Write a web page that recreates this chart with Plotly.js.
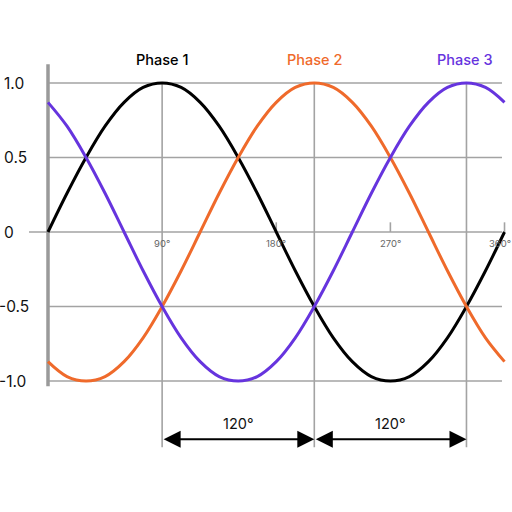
<!DOCTYPE html>
<html><head><meta charset="utf-8">
<script src="https://cdn.plot.ly/plotly-3.0.1.min.js"></script>
<style>html,body{margin:0;padding:0;background:#fff}#chart{width:512px;height:512px}</style>
</head><body><div id="chart"></div>
<script>
// Angles in degrees (read every 15°)
const angles = [0,15,30,45,60,75,90,105,120,135,150,165,180,195,210,225,240,255,270,285,300,315,330,345,360];
const phase1 = [0,0.26,0.5,0.71,0.87,0.97,1,0.97,0.87,0.71,0.5,0.26,0,-0.26,-0.5,-0.71,-0.87,-0.97,-1,-0.97,-0.87,-0.71,-0.5,-0.26,0];
const phase2 = [-0.87,-0.97,-1,-0.97,-0.87,-0.71,-0.5,-0.26,0,0.26,0.5,0.71,0.87,0.97,1,0.97,0.87,0.71,0.5,0.26,0,-0.26,-0.5,-0.71,-0.87];
const phase3 = [0.87,0.71,0.5,0.26,0,-0.26,-0.5,-0.71,-0.87,-0.97,-1,-0.97,-0.87,-0.71,-0.5,-0.26,0,0.26,0.5,0.71,0.87,0.97,1,0.97,0.87];
const seriesNames = ["Phase 1","Phase 2","Phase 3"];
const seriesPeaks = [90,210,330];
const yTickVals = [1,0.5,0,-0.5,-1];
const yTickText = ["1.0","0.5","0","-0.5","-1.0"];
const xTickVals = [90,180,270,360];
const xTickText = ["90°","180°","270°","360°"];
const markedAngles = [90,210,330];
const spanLabel = "120°";

const colors = ["#000000","#EF6A2B","#6634DE"];
const font = "Inter, 'Open Sans', sans-serif";

const traces = [phase1,phase2,phase3].map((ys,i)=>({
  x: angles, y: ys, type:"scatter", mode:"lines", name: seriesNames[i],
  line:{color:colors[i], width:3, shape:"spline", smoothing:1}, hoverinfo:"skip"
}));

const grid = "#a3a3a3";
const shapes = [];
yTickVals.forEach(v=>{
  shapes.push({type:"line", xref:"x", yref:"y", x0: v===0 ? -15 : 0, x1:358, y0:v, y1:v,
    line:{color:grid, width:1.6}, layer:"below"});
});
markedAngles.forEach(a=>{
  shapes.push({type:"line", xref:"x", yref:"y", x0:a, x1:a, y0:1, y1:-1.445,
    line:{color:grid, width:1.6}, layer:"below"});
});
xTickVals.slice(1).forEach(a=>{
  shapes.push({type:"line", xref:"x", yref:"y", x0:a, x1:a, y0:0, y1:0.065,
    line:{color:grid, width:1.6}, layer:"below"});
});
shapes.push({type:"line", xref:"x", yref:"y", x0:0, x1:0, y0:1.125, y1:-1.035,
  line:{color:"#9a9a9a", width:3.5}, layer:"below"});

const annotations = [];
yTickVals.forEach((v,i)=>{
  annotations.push({x:-37, y:v, xref:"x", yref:"y", text:yTickText[i], showarrow:false,
    xanchor:"left", yanchor:"middle", xshift: yTickText[i].startsWith("-") ? -4 : 1,
    font:{family:font, size:15.5, color:"#111"}});
});
xTickVals.forEach((a,i)=>{
  const last = i === xTickVals.length-1;
  annotations.push({x:a, y:-0.075, xref:"x", yref:"y", text:xTickText[i], showarrow:false,
    xanchor: last ? "right" : "center", xshift: last ? 8 : 0, yanchor:"middle",
    font:{family:font, size:9.5, color:"#666"}});
});
seriesNames.forEach((n,i)=>{
  annotations.push({x:seriesPeaks[i] - (i===2?1.5:0), y:1.16, xref:"x", yref:"y", text:n, showarrow:false,
    xanchor:"center", yanchor:"middle", font:{family:font, size:14.5, color:colors[i], weight:500}});
});
for (let k=0;k<2;k++){
  const a0 = markedAngles[k], a1 = markedAngles[k+1];
  annotations.push({x:a1, y:-1.39, ax:a0, ay:-1.39, xref:"x", yref:"y", axref:"x", ayref:"y",
    text:"", showarrow:true, arrowhead:2, startarrowhead:2, arrowside:"end+start",
    arrowsize:1.7, startarrowsize:1.7, arrowwidth:2, arrowcolor:"#000", standoff:0, startstandoff:0});
  annotations.push({x:(a0+a1)/2, y:-1.285, xref:"x", yref:"y", text:spanLabel, showarrow:false,
    xanchor:"center", yanchor:"middle", font:{family:font, size:14.5, color:"#111"}});
}

const layout = {
  width:512, height:512, margin:{l:0,r:0,t:0,b:0},
  paper_bgcolor:"#fff", plot_bgcolor:"#fff", showlegend:false,
  xaxis:{range:[-37.85,365.9], visible:false, fixedrange:true},
  yaxis:{range:[-1.879,1.557], visible:false, fixedrange:true},
  shapes, annotations
};
Plotly.newPlot("chart", traces, layout, {displayModeBar:false, staticPlot:true});
</script></body></html>
